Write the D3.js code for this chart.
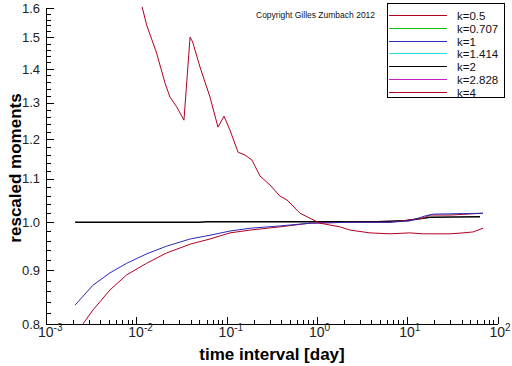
<!DOCTYPE html>
<html><head><meta charset="utf-8">
<script src="https://cdn.jsdelivr.net/npm/d3@7"></script>
<style>body{margin:0;background:#fff}svg{display:block}</style>
</head><body>
<svg id="c" width="512" height="366"></svg>
<script>
const legendLabels = ["k=0.5","k=0.707","k=1","k=1.414","k=2","k=2.828","k=4"];
const legendColors = ["#b00020","#10c010","#2a2ab8","#20e0e0","#000000","#c020c0","#b00020"];
const xMajorTicks = [1e-3,1e-2,1e-1,1,10,100];
const xExponents = ["-3","-2","-1","0","1","2"];
const yMajorTicks = [0.8,0.9,1.0,1.1,1.2,1.3,1.4,1.5,1.6];
const yTickLabels = ["0.8","0.9","1.0","1.1","1.2","1.3","1.4","1.5","1.6"];

// k=4 (upper red curve)
const k4Time = [0.0116,0.0130,0.0168,0.0208,0.0236,0.0280,0.0337,0.0394,0.0421,0.0507,0.0655,0.0803,0.0936,0.109,0.134,0.160,0.191,0.234,0.303,0.390,0.467,0.650,1.08,1.80,2.33,3.87,6.45,10.7,15.0,23.1,29.8,41.5,53.6,69.1];
const k4Values = [1.604,1.542,1.449,1.357,1.316,1.288,1.251,1.501,1.485,1.406,1.316,1.232,1.262,1.224,1.166,1.159,1.146,1.107,1.085,1.059,1.050,1.020,0.998,0.990,0.983,0.977,0.975,0.977,0.975,0.975,0.975,0.977,0.979,0.987];
// k=0.5 (lower red curve)
const k05Time = [0.0021,0.00251,0.00331,0.00511,0.00783,0.0130,0.0217,0.0394,0.0655,0.109,0.182,0.390,0.839,2.33,6.45,15.0,17.9,29.8,69.1];
const k05Values = [0.780,0.798,0.825,0.862,0.891,0.914,0.935,0.953,0.964,0.977,0.983,0.990,0.998,1.000,1.000,1.009,1.016,1.016,1.020];
// k=1 (blue)
const k1Time = [0.0021,0.00331,0.00511,0.00783,0.0130,0.0217,0.0394,0.0655,0.109,0.182,0.390,0.839,2.2,3.87,6.45,10.7,15.8,19.5,69.1];
const k1Values = [0.834,0.871,0.895,0.914,0.933,0.949,0.964,0.972,0.981,0.987,0.992,0.998,1.000,1.000,1.000,1.003,1.014,1.018,1.020];
// k=2 (black)
const k2Time = [0.0021,0.05,0.06,1.0,4.6,10.0,17.9,64.0];
const k2Values = [1.000,1.000,1.001,1.001,1.001,1.004,1.011,1.012];

const svg = d3.select("#c");
const x = d3.scaleLog().domain([1e-3,1e2]).range([46,497.5]);
const y = d3.scaleLog().domain([0.8,1.6]).range([324,8]);
const font = "'Liberation Sans', Arial, sans-serif";

svg.append("defs").append("clipPath").attr("id","clip")
  .append("rect").attr("x",46).attr("y",5).attr("width",452).attr("height",319);

const series = [
  {t:k2Time, v:k2Values, c:"#000000", w:1.5},
  {t:k05Time, v:k05Values, c:"#b00020", w:1},
  {t:k1Time, v:k1Values, c:"#2a2ab8", w:1},
  {t:k4Time, v:k4Values, c:"#b00020", w:1}
];
const line = d3.line().x(d=>x(d[0])).y(d=>y(d[1]));
const g = svg.append("g").attr("clip-path","url(#clip)");
series.forEach(s=>{
  g.append("path").datum(s.t.map((t,i)=>[t,s.v[i]]))
    .attr("d",line).attr("fill","none").attr("stroke",s.c).attr("stroke-width",s.w);
});

// axes
const ax = svg.append("g").attr("stroke","#000").attr("stroke-width",1);
ax.append("line").attr("x1",46.5).attr("x2",46.5).attr("y1",8).attr("y2",324.5);
ax.append("line").attr("x1",46).attr("x2",498).attr("y1",324.5).attr("y2",324.5);
const xMinor = [];
for (let e=-3;e<2;e++) for (let m=2;m<=9;m++) xMinor.push(m*Math.pow(10,e));
xMinor.forEach(v=>ax.append("line").attr("x1",Math.round(x(v))+0.5).attr("x2",Math.round(x(v))+0.5).attr("y1",324).attr("y2",320));
xMajorTicks.forEach(v=>ax.append("line").attr("x1",Math.round(x(v))+0.5).attr("x2",Math.round(x(v))+0.5).attr("y1",324).attr("y2",317));
const yMinor = d3.range(80,161,2).map(v=>v/100);
yMinor.forEach(v=>ax.append("line").attr("x1",46).attr("x2",51).attr("y1",Math.round(y(v))+0.5).attr("y2",Math.round(y(v))+0.5));
yMajorTicks.forEach(v=>ax.append("line").attr("x1",46).attr("x2",54).attr("y1",Math.round(y(v))+0.5).attr("y2",Math.round(y(v))+0.5));

// y tick labels
yMajorTicks.forEach((v,i)=>{
  svg.append("text").attr("x",40).attr("y",y(v)).attr("dy","0.36em")
    .attr("text-anchor","end").attr("font-family",font).attr("font-size",13)
    .attr("fill","#222").text(yTickLabels[i]);
});
// x tick labels
xMajorTicks.forEach((v,i)=>{
  const t = svg.append("text").attr("x",x(v)-8).attr("y",337)
    .attr("font-family",font).attr("font-size",14).attr("fill","#222");
  t.append("tspan").text("10");
  t.append("tspan").attr("dy",-6).attr("font-size",10).text(xExponents[i]);
});

// axis titles
svg.append("text").attr("x",272).attr("y",360).attr("text-anchor","middle")
  .attr("font-family",font).attr("font-size",17).attr("font-weight","bold").text("time interval [day]");
svg.append("text").attr("transform","translate(21,168) rotate(-90)").attr("text-anchor","middle")
  .attr("font-family",font).attr("font-size",17).attr("font-weight","bold").text("rescaled moments");

// copyright
svg.append("text").attr("x",256).attr("y",18).attr("font-family",font).attr("font-size",8.5)
  .attr("fill","#111").text("Copyright Gilles Zumbach 2012");

// legend
const lg = svg.append("g");
lg.append("rect").attr("x",387.5).attr("y",3.5).attr("width",117).attr("height",94)
  .attr("fill","#fff").attr("stroke","#000").attr("stroke-width",1);
legendLabels.forEach((lab,i)=>{
  const yy = Math.round(15 + i*12.8)+0.5;
  lg.append("line").attr("x1",389).attr("x2",447).attr("y1",yy).attr("y2",yy)
    .attr("stroke",legendColors[i]).attr("stroke-width",1);
  lg.append("text").attr("x",457).attr("y",yy+4).attr("font-family",font).attr("font-size",11.5)
    .attr("fill","#111").text(lab);
});
</script>
</body></html>
